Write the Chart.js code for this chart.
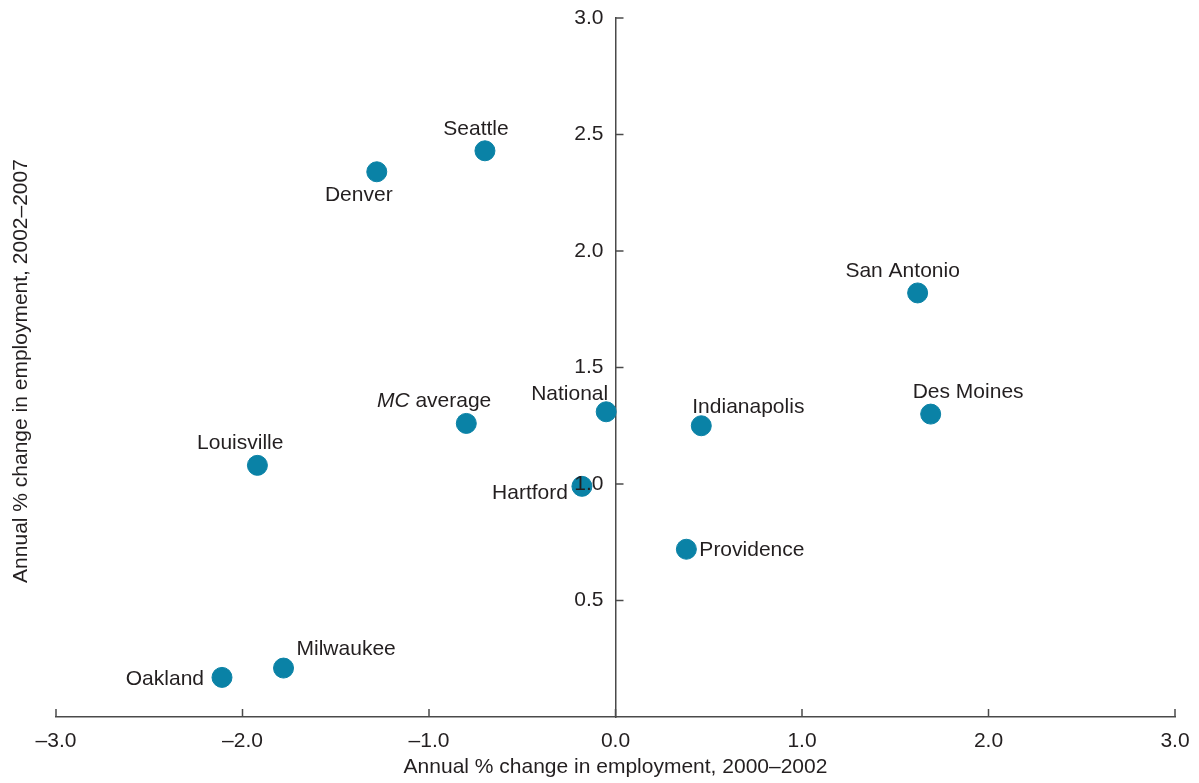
<!DOCTYPE html>
<html>
<head>
<meta charset="utf-8">
<script src="https://cdn.jsdelivr.net/npm/chart.js@4.4.1/dist/chart.umd.min.js"></script>
<style>
  html, body { margin: 0; padding: 0; background: #fff; }
  #wrap { width: 1199px; height: 783px; }
</style>
</head>
<body>
<div id="wrap"><canvas id="scatter"></canvas></div>
<script>
// city names and values (annual % change in employment)
const cities = ['Seattle', 'Denver', 'San Antonio', 'Des Moines', 'National', 'MC average',
                'Indianapolis', 'Louisville', 'Hartford', 'Providence', 'Milwaukee', 'Oakland'];
const change2000to2002 = [-0.70, -1.28, 1.62, 1.69, -0.05, -0.80, 0.46, -1.92, -0.18, 0.38, -1.78, -2.11];
const change2002to2007 = [2.43, 2.34, 1.82, 1.30, 1.31, 1.26, 1.25, 1.08, 0.99, 0.72, 0.21, 0.17];
const xTicks = [-3, -2, -1, 0, 1, 2, 3];
const yTicks = [0.5, 1.0, 1.5, 2.0, 2.5, 3.0];

const FONT = '"Liberation Sans", Arial, sans-serif';
const SIZE = 21;
const INK = '#231f20';
const AXIS = '#4a4a4a';

// where each label sits relative to its dot
const labelPlace = {
  'Seattle':      { dx: -9,  dy: -22, align: 'center' },
  'Denver':       { dx: -18, dy: 23,  align: 'center' },
  'San Antonio':  { dx: -15, dy: -22, align: 'center' },
  'Des Moines':   { dx: -18, dy: -22, align: 'left' },
  'National':     { dx: 2,   dy: -18, align: 'right' },
  'MC average':   { dx: 25,  dy: -22, align: 'right' },
  'Indianapolis': { dx: -9,  dy: -19, align: 'left' },
  'Louisville':   { dx: 26,  dy: -22, align: 'right' },
  'Hartford':     { dx: -14, dy: 7,   align: 'right' },
  'Providence':   { dx: 13,  dy: 1,   align: 'left' },
  'Milwaukee':    { dx: 13,  dy: -19, align: 'left' },
  'Oakland':      { dx: -18, dy: 2,   align: 'right' }
};

function fmt(v) {
  return (v < 0 ? '\u2013' : '') + Math.abs(v).toFixed(1);
}

const axisExtras = {
  id: 'axisExtras',
  afterDraw(chart) {
    const c = chart.ctx;
    const xs = chart.scales.x, ys = chart.scales.y;
    const x0 = xs.getPixelForValue(0);
    const yb = ys.getPixelForValue(0);
    c.save();
    c.strokeStyle = AXIS;
    c.lineWidth = 1.5;
    // inward tick marks on x axis
    xTicks.forEach(v => {
      const px = xs.getPixelForValue(v);
      c.beginPath(); c.moveTo(px, yb); c.lineTo(px, yb - 8); c.stroke();
    });
    // tick marks on the centre y axis, pointing right
    yTicks.forEach(v => {
      const py = ys.getPixelForValue(v);
      c.beginPath(); c.moveTo(x0, py); c.lineTo(x0 + 8, py); c.stroke();
    });
    // y tick labels, left of the axis
    c.fillStyle = INK;
    c.font = SIZE + 'px ' + FONT;
    c.textAlign = 'right';
    c.textBaseline = 'middle';
    yTicks.forEach(v => {
      c.fillText(fmt(v), x0 - 12, ys.getPixelForValue(v));
    });
    // y axis title
    c.textAlign = 'center';
    c.translate(21, 371);
    c.rotate(-Math.PI / 2);
    c.fillText('Annual % change in employment, 2002\u20132007', 0, 0);
    c.restore();
  }
};

const cityLabels = {
  id: 'cityLabels',
  afterDatasetsDraw(chart) {
    const c = chart.ctx;
    const meta = chart.getDatasetMeta(0);
    c.save();
    c.fillStyle = INK;
    c.textBaseline = 'middle';
    meta.data.forEach((pt, i) => {
      const name = cities[i];
      const p = labelPlace[name];
      const tx = pt.x + p.dx, ty = pt.y + p.dy;
      if (name === 'MC average') {
        c.font = 'italic ' + SIZE + 'px ' + FONT;
        const w1 = c.measureText('MC').width;
        c.font = SIZE + 'px ' + FONT;
        const w2 = c.measureText(' average').width;
        const start = tx - w1 - w2;
        c.textAlign = 'left';
        c.font = 'italic ' + SIZE + 'px ' + FONT;
        c.fillText('MC', start, ty);
        c.font = SIZE + 'px ' + FONT;
        c.fillText(' average', start + w1, ty);
      } else {
        c.font = SIZE + 'px ' + FONT;
        c.textAlign = p.align;
        c.fillText(name, tx, ty);
      }
    });
    c.restore();
  }
};

const ctx = document.getElementById('scatter').getContext('2d');
new Chart(ctx, {
  type: 'scatter',
  data: {
    datasets: [{
      data: cities.map((n, i) => ({ x: change2000to2002[i], y: change2002to2007[i] })),
      backgroundColor: '#0a82a6',
      borderColor: '#0a82a6',
      pointRadius: 10,
      pointHoverRadius: 10
    }]
  },
  options: {
    responsive: true,
    maintainAspectRatio: false,
    animation: false,
    layout: { padding: { left: 56, right: 24, top: 18, bottom: 3 } },
    plugins: { legend: { display: false }, tooltip: { enabled: false } },
    scales: {
      x: {
        type: 'linear',
        min: -3, max: 3,
        afterBuildTicks: s => { s.ticks = xTicks.map(v => ({ value: v })); },
        afterFit: s => { s.height = 63; s.paddingLeft = 0; s.paddingRight = 0; },
        grid: { display: false, drawTicks: false },
        border: { display: true, color: AXIS, width: 1.5 },
        ticks: { padding: 12, color: INK, font: { family: FONT, size: SIZE }, callback: v => fmt(v) },
        title: {
          display: true,
          text: 'Annual % change in employment, 2000\u20132002',
          color: INK,
          font: { family: FONT, size: SIZE },
          padding: { top: 4, bottom: 0 }
        }
      },
      y: {
        type: 'linear',
        position: { x: 0 },
        min: 0, max: 3,
        afterBuildTicks: s => { s.ticks = yTicks.map(v => ({ value: v })); },
        afterFit: s => { s.paddingTop = 0; s.paddingBottom = 0; },
        grid: { display: false, drawTicks: false },
        border: { display: true, color: AXIS, width: 1.5 },
        ticks: { display: false }
      }
    }
  },
  plugins: [axisExtras, cityLabels]
});
</script>
</body>
</html>
